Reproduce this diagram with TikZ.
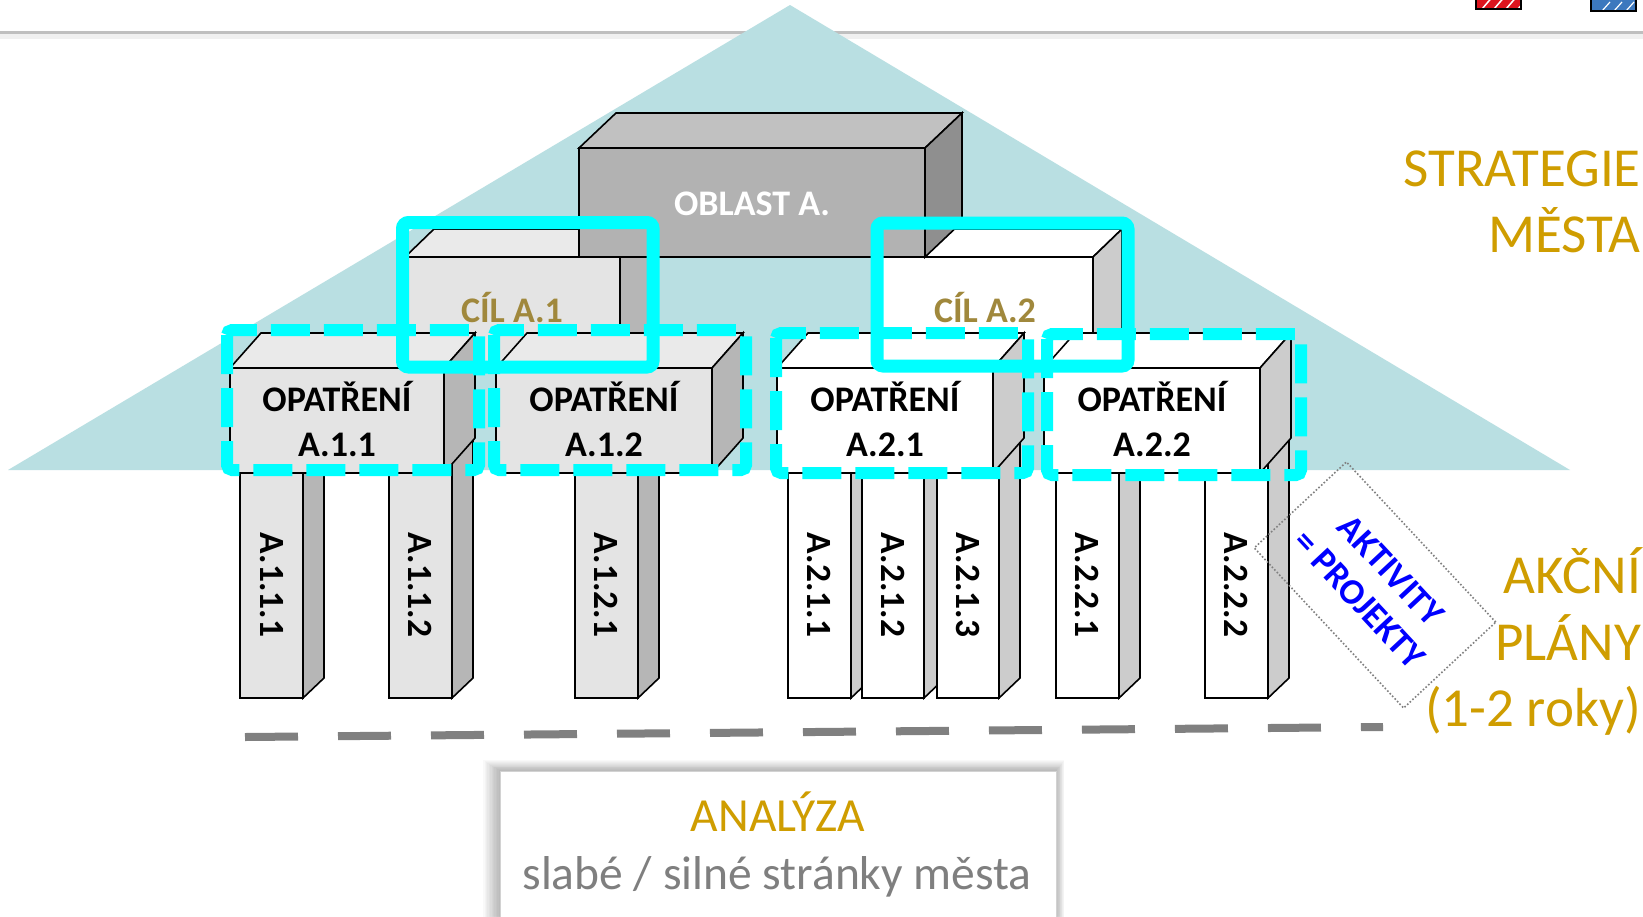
\documentclass[tikz,border=0pt]{standalone}
\usepackage{fontspec}
\setmainfont{Carlito}
\usetikzlibrary{calc}
\definecolor{teal1}{RGB}{185,223,226}
\definecolor{cyanc}{RGB}{0,255,255}
\definecolor{goldc}{RGB}{207,157,0}
\definecolor{cilc}{RGB}{160,136,60}
\definecolor{ltfront}{RGB}{228,228,228}
\definecolor{lttop}{RGB}{234,234,234}
\definecolor{ltside}{RGB}{182,182,182}
\definecolor{whside}{RGB}{204,204,204}
\definecolor{obfront}{RGB}{178,178,178}
\definecolor{obtop}{RGB}{193,193,193}
\definecolor{obside}{RGB}{143,143,143}
\definecolor{dashgray}{RGB}{128,128,128}
\definecolor{txtgray}{RGB}{127,127,127}
\definecolor{iconred}{RGB}{220,20,30}
\definecolor{iconblue}{RGB}{60,120,190}
\tikzset{
  boxline/.style={draw=black, line width=1.6pt, line join=miter},
  solidframe/.style={draw=cyanc, line width=13pt, rounded corners=6pt},
  dashframe/.style={draw=cyanc, line width=12pt, rounded corners=5pt, dash pattern=on 39pt off 14pt},
  lbl/.style={font=\fontsize{36}{42}\selectfont\bfseries, anchor=base, inner sep=0pt},
  plbl/.style={font=\fontsize{35.5}{40}\selectfont\bfseries, rotate=-90, inner sep=0pt},
  sidetxt/.style={font=\fontsize{55}{62}\selectfont, text=goldc, anchor=base east, inner sep=0pt},
}
% x1 y1 x2 y2 dx dy front top side
\newcommand\cuboid[9]{%
  \filldraw[boxline, fill=#8] (#1,#2) -- (#1+#5,#2-#6) -- (#3+#5,#2-#6) -- (#3,#2) -- cycle;
  \filldraw[boxline, fill=#9] (#3,#2) -- (#3+#5,#2-#6) -- (#3+#5,#4-#6) -- (#3,#4) -- cycle;
  \filldraw[boxline, fill=#7] (#1,#2) rectangle (#3,#4);
}
% x1 x2 front side label name
\newcommand\pillar[6]{%
  \cuboid{#1}{455}{#2}{698}{21}{20}{#3}{#3}{#4}
  \node[plbl] (#6) at ({(#1+#2)/2},585) {#5};
}
\begin{document}
\begin{tikzpicture}[x=1pt,y=-1pt]
\useasboundingbox (0,0) rectangle (1643,916);
\fill[white] (0,0) rectangle (1643,916);

% header line and icons
\fill[gray!12] (0,34) rectangle (1643,39);
\draw[line width=2.5pt, color=gray!50] (0,32.5) -- (1643,32.5);
\begin{scope}
  \clip (1476,-5) rectangle (1521,9);
  \fill[iconred] (1476,-5) rectangle (1521,9);
  \foreach \k in {0,12,24,36} \draw[white, line width=1.5pt] (1482+\k,9) -- (1494+\k,-5);
\end{scope}
\draw[black, line width=2.5pt, line cap=round] (1476,-5) -- (1476,9) -- (1521,9) -- (1521,-5);
\begin{scope}
  \clip (1591,-5) rectangle (1636,11);
  \fill[iconblue] (1591,-5) rectangle (1636,11);
  \foreach \k in {10,22,34} \draw[white, line width=1.2pt] (1592+\k,11) -- (1600+\k,2);
\end{scope}
\draw[black, line width=2.5pt, line cap=round] (1591,-5) -- (1591,11) -- (1636,11) -- (1636,-5);

% pyramid
\coordinate (tl) at (8,470);
\coordinate (tt) at (790,5);
\coordinate (tr) at (1570,470);
\fill[teal1] (tl) -- (tt) -- (tr) -- cycle;

% goals (behind area)
\cuboid{405}{257}{620}{367}{29}{28}{ltfront}{lttop}{ltside}
\cuboid{877}{257}{1093}{367}{29}{28}{white}{white}{whside}
% area
\cuboid{579}{148}{925}{257}{37}{35}{obfront}{obtop}{obside}
\node[lbl, text=white] (oblast) at (752,215) {OBLAST A.};
\node[lbl, text=cilc] (cil1) at (512,322) {CÍL A.1};
\node[lbl, text=cilc] (cil2) at (985,322) {CÍL A.2};

% pillars
\pillar{240}{303}{ltfront}{ltside}{A.1.1.1}{p111}
\pillar{389}{452}{ltfront}{ltside}{A.1.1.2}{p112}
\pillar{575}{638}{ltfront}{ltside}{A.1.2.1}{p121}
\pillar{788}{851}{white}{whside}{A.2.1.1}{p211}
\pillar{862}{924}{white}{whside}{A.2.1.2}{p212}
\pillar{937}{999}{white}{whside}{A.2.1.3}{p213}
\pillar{1056}{1119}{white}{whside}{A.2.2.1}{p221}
\pillar{1205}{1268}{white}{whside}{A.2.2.2}{p222}

% measures
\cuboid{230}{368}{444}{473}{31}{35}{ltfront}{lttop}{ltside}
\cuboid{496}{368}{712}{473}{31}{35}{ltfront}{lttop}{ltside}
\cuboid{777}{368}{993}{473}{31}{35}{white}{white}{whside}
\cuboid{1044}{368}{1260}{473}{31}{35}{white}{white}{whside}
\node[lbl] (o11a) at (337,411) {OPATŘENÍ};
\node[lbl] (o11b) at (337,456) {A.1.1};
\node[lbl] (o12a) at (604,411) {OPATŘENÍ};
\node[lbl] (o12b) at (604,456) {A.1.2};
\node[lbl] (o21a) at (885,411) {OPATŘENÍ};
\node[lbl] (o21b) at (885,456) {A.2.1};
\node[lbl] (o22a) at (1152,411) {OPATŘENÍ};
\node[lbl] (o22b) at (1152,456) {A.2.2};

% cyan highlight frames
\draw[dashframe] (227,330) rectangle (479,470);
\draw[dashframe] (494,330) rectangle (746,470);
\draw[dashframe] (776,333) rectangle (1028,473);
\draw[dashframe] (1047,334) rectangle (1301,475);
\draw[solidframe] (402.5,222.5) rectangle (653,367);
\draw[solidframe] (877,223) rectangle (1128,366);

% activities note
\node[draw=dashgray, dotted, line width=1.6pt, rotate=-47, minimum width=219pt, minimum height=126pt,
      align=center, text=blue, font=\fontsize{36}{43}\selectfont\bfseries, inner sep=0pt]
      (akt) at (1375,585) {AKTIVITY\\= PROJEKTY};

% ground dashed line
\coordinate (gl) at (245,737);
\coordinate (gr) at (1383,727);
\draw[line width=8pt, dashgray, dash pattern=on 53pt off 40pt] (gl) -- (gr);

% right side labels
\node[sidetxt] (s1) at (1641,186) {STRATEGIE};
\node[sidetxt] (s2) at (1641,252) {MĚSTA};
\node[sidetxt] (a1) at (1641,593) {AKČNÍ};
\node[sidetxt] (a2) at (1641,660) {PLÁNY};
\node[sidetxt] (a3) at (1641,726) {(1-2 roky)};

% analysis box
\foreach \i in {1,...,12}
  \fill[black, opacity=0.022] (500-\i*1.4,771-\i*0.9) rectangle (1056+\i*0.7,930);
\fill[white] (500,771) rectangle (1056,930);
\draw[gray!35, line width=0.6pt] (500,930) -- (500,771) -- (1056,771) -- (1056,930);
\node[font=\fontsize{47.5}{54}\selectfont, text=goldc, anchor=base, inner sep=0pt] (an1) at (778,831) {ANALÝZA};
\node[font=\fontsize{47.5}{54}\selectfont, text=txtgray, anchor=base, inner sep=0pt] (an2) at (777,889) {slabé / silné stránky města};
\end{tikzpicture}
\end{document}
